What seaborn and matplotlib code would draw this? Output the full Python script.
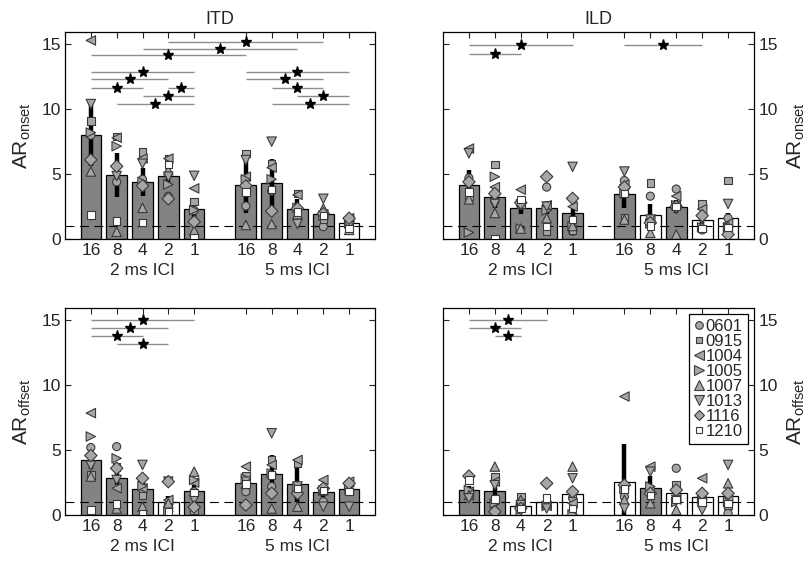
import numpy as np
import pandas as pd
import matplotlib
matplotlib.use('Agg')
import matplotlib.pyplot as plt
from matplotlib.lines import Line2D
import matplotlib.transforms as mtransforms
import seaborn as sns

# ---------------- data ----------------
subjects = ['0601', '0915', '1004', '1005', '1007', '1013', '1116', '1210']
subject_markers = ['o', 's', '<', '>', '^', 'v', 'D', 's']
rates = ['16', '8', '4', '2', '1', '16', '8', '4', '2', '1']
ici_groups = ['2 ms ICI', '5 ms ICI']

# ITD onset
itd_onset_mean = [8.0, 4.95, 4.4, 4.85, 2.28, 4.18, 4.28, 2.3, 1.92, 1.2]
itd_onset_se = [2.4, 1.7, 1.1, 0.6, 0.9, 2.2, 1.9, 0.8, 0.5, 0.3]
itd_onset_sig = [1, 1, 1, 1, 1, 1, 1, 1, 1, 0]
itd_onset_pts = [
    [8.0, 4.4, 4.6, 3.3, 2.2, 2.54, 3.7, 1.6, 0.95, 1.1],
    [9.1, 7.9, 6.7, 6.2, 2.9, 6.6, 5.8, 3.5, 1.5, 1.3],
    [15.3, 7.8, 6.2, 6.2, 3.9, 4.8, 5.5, 3.4, 1.9, 1.6],
    [8.2, 7.15, 4.4, 4.2, 2.23, 4.6, 4.6, 2.4, 1.8, 1.2],
    [5.2, 0.56, 2.4, 5.3, 0.64, 1.08, 1.15, 1.9, 2.35, 0.7],
    [10.4, 4.85, 5.8, 4.8, 4.87, 6.08, 7.5, 1.15, 3.1, 1.0],
    [6.1, 5.6, 4.1, 3.1, 1.33, 4.1, 2.15, 2.35, 1.95, 1.6],
    [1.85, 1.4, 1.28, 5.75, 0.13, 3.6, 3.8, 2.1, 1.8, 0.8],
]
itd_onset_pairs = [(3, 8, 15.15), (2, 7, 14.67), (0, 5, 14.2), (0, 4, 12.9), (0, 3, 12.3),
                   (0, 2, 11.67), (3, 4, 11.67), (2, 4, 11.05), (1, 4, 10.43),
                   (5, 9, 12.9), (5, 8, 12.3), (6, 8, 11.67), (7, 9, 11.05), (6, 9, 10.43)]

# ILD onset
ild_onset_mean = [4.13, 3.2, 2.4, 2.4, 2.0, 3.5, 1.82, 2.5, 1.46, 1.64]
ild_onset_se = [1.2, 0.8, 0.5, 0.5, 0.4, 1.1, 0.9, 0.5, 0.3, 0.4]
ild_onset_sig = [1, 1, 1, 1, 1, 1, 0, 1, 0, 0]
ild_onset_pts = [
    [4.7, 2.9, 2.6, 4.0, 0.6, 4.5, 3.3, 3.85, 0.7, 1.6],
    [3.3, 5.74, 2.7, 0.6, 0.7, 1.6, 4.3, 2.6, 2.7, 4.5],
    [6.97, 4.0, 3.8, 2.6, 2.5, 4.2, 1.5, 3.3, 2.3, 1.2],
    [0.5, 4.8, 0.8, 2.2, 1.0, 3.5, 1.2, 2.6, 0.9, 0.9],
    [3.05, 2.0, 0.8, 1.6, 1.0, 1.5, 0.47, 0.35, 1.0, 1.0],
    [6.6, 2.7, 2.65, 2.5, 5.56, 5.2, 1.5, 2.3, 1.5, 2.7],
    [4.4, 3.5, 2.8, 4.8, 3.13, 4.0, 1.25, 2.5, 1.8, 0.35],
    [3.64, 0.05, 3.05, 0.95, 1.5, 3.5, 1.0, 2.5, 0.8, 0.9],
]
ild_onset_pairs = [(0, 4, 14.92), (0, 2, 14.28), (5, 8, 14.92)]

# ITD offset
itd_offset_mean = [4.24, 2.88, 2.0, 1.03, 1.88, 2.44, 3.14, 2.37, 1.75, 2.0]
itd_offset_se = [0.7, 0.6, 0.6, 0.4, 0.4, 0.9, 1.5, 1.4, 0.4, 0.3]
itd_offset_sig = [1, 1, 1, 0, 1, 1, 1, 1, 1, 1]
itd_offset_pts = [
    [5.2, 5.27, 2.0, 0.8, 1.8, 1.8, 2.19, 2.06, 1.03, 2.3],
    [3.1, 3.7, 1.5, 0.6, 0.4, 3.0, 4.24, 4.0, 1.9, 1.8],
    [7.85, 2.06, 2.06, 1.16, 2.5, 3.73, 3.86, 4.24, 2.7, 2.57],
    [6.05, 4.37, 2.24, 0.3, 2.7, 2.8, 3.2, 2.1, 1.9, 2.2],
    [2.96, 0.5, 0.64, 0.9, 3.34, 2.4, 0.5, 0.64, 1.9, 2.0],
    [3.8, 2.7, 3.86, 2.57, 1.16, 2.57, 6.3, 2.2, 0.64, 0.64],
    [4.58, 3.6, 2.83, 2.57, 0.6, 0.77, 1.67, 1.67, 2.06, 2.44],
    [0.4, 0.85, 0.13, 0.26, 1.72, 2.4, 3.1, 2.05, 1.9, 1.8],
]
itd_offset_pairs = [(0, 4, 15.0), (0, 3, 14.38), (0, 2, 13.76), (1, 3, 13.15)]

# ILD offset
ild_offset_mean = [1.93, 1.88, 0.72, 1.03, 1.6, 2.57, 2.1, 1.72, 1.36, 1.5]
ild_offset_se = [0.3, 0.5, 0.2, 0.2, 0.5, 2.9, 0.9, 0.8, 0.3, 0.4]
ild_offset_sig = [1, 1, 0, 0, 0, 0, 1, 0, 0, 0]
ild_offset_pts = [
    [1.6, 1.0, 0.6, 0.8, 1.3, 1.4, 2.0, 3.6, 1.03, 0.13],
    [1.6, 2.96, 1.41, 0.9, 1.7, 2.1, 1.5, 2.3, 1.2, 0.77],
    [1.8, 2.57, 0.9, 0.7, 0.9, 9.13, 3.73, 1.2, 2.83, 1.2],
    [1.93, 0.9, 0.4, 0.7, 0.05, 2.0, 2.2, 1.0, 1.2, 1.0],
    [1.54, 3.73, 1.16, 0.9, 3.73, 1.16, 0.9, 0.39, 1.54, 2.44],
    [1.29, 2.3, 0.77, 0.5, 2.83, 0.5, 3.34, 1.16, 0.39, 3.86],
    [3.0, 0.26, 0.5, 2.44, 1.8, 2.3, 1.67, 1.93, 1.67, 1.67],
    [2.7, 1.23, 0.51, 1.29, 0.51, 2.0, 1.5, 1.2, 1.0, 0.9],
]
ild_offset_pairs = [(0, 3, 15.0), (0, 2, 14.38), (1, 2, 13.76)]

# ---------------- style ----------------
sns.set_style('ticks')
plt.rcParams['font.family'] = ['Liberation Sans', 'DejaVu Sans']
plt.rcParams['mathtext.default'] = 'regular'

BAR_GRAY = '#838383'
MK_GRAY = '#a6a6a6'
MK_EDGE = '#3a3a3a'
FS = 12.5

fig = plt.figure(figsize=(8.1, 5.62), dpi=100)
W, H = 810.0, 562.0
boxes = [(65, 32, 375, 239), (443, 32, 754, 239), (65, 308, 375, 515), (443, 308, 754, 515)]
axes = [fig.add_axes([l / W, 1 - b / H, (r - l) / W, (b - t) / H]) for (l, t, r, b) in boxes]

pos = np.r_[1:6, 7:12].astype(float)

panels = [
    (itd_onset_mean, itd_onset_se, itd_onset_sig, itd_onset_pts, itd_onset_pairs, 'ITD', 'AR$_{onset}$'),
    (ild_onset_mean, ild_onset_se, ild_onset_sig, ild_onset_pts, ild_onset_pairs, 'ILD', 'AR$_{onset}$'),
    (itd_offset_mean, itd_offset_se, itd_offset_sig, itd_offset_pts, itd_offset_pairs, None, 'AR$_{offset}$'),
    (ild_offset_mean, ild_offset_se, ild_offset_sig, ild_offset_pts, ild_offset_pairs, None, 'AR$_{offset}$'),
]

marker_map = dict(zip(subjects, subject_markers))
color_map = {s: (MK_GRAY if s != '1210' else 'white') for s in subjects}
size_map = {'0601': 34, '0915': 30, '1004': 46, '1005': 46, '1007': 46, '1013': 46,
            '1116': 40, '1210': 30}

for k, (ax, (mean, se, sig, pts, pairs, title, ylab)) in enumerate(zip(axes, panels)):
    mean = np.asarray(mean)
    se = np.asarray(se)
    colors = [BAR_GRAY if g else 'white' for g in sig]
    ax.bar(pos, mean, width=0.8, color=colors, edgecolor='black', linewidth=0.9, zorder=2)
    ax.vlines(pos, mean - se, mean + se, color='black', linewidth=3.2, zorder=3)
    ax.axhline(1.0, color='black', linewidth=0.8, linestyle=(0, (8, 5)), zorder=3.5)

    rows = []
    for s, vals in zip(subjects, pts):
        for i, v in enumerate(vals):
            rows.append({'x': pos[i], 'y': v, 'subject': s})
    df = pd.DataFrame(rows)
    sns.scatterplot(data=df, x='x', y='y', hue='subject', style='subject', size='subject',
                    sizes=size_map, size_order=subjects,
                    markers=marker_map, palette=color_map, hue_order=subjects,
                    style_order=subjects, edgecolor=MK_EDGE, linewidth=0.8,
                    legend=False, ax=ax, zorder=4)

    for (i, j, lev) in pairs:
        ax.hlines(lev, pos[i], pos[j], color='#8c8c8c', linewidth=1.0, zorder=1)
        ax.plot([(pos[i] + pos[j]) / 2], [lev], marker='*', ms=8, color='black',
                linestyle='', zorder=5)

    ax.set_xlim(0, 12)
    ax.set_ylim(0, 15.95)
    ax.set_xticks(pos)
    ax.set_xticklabels(rates, fontsize=FS)
    ax.set_yticks([0, 5, 10, 15])
    ax.set_xlabel('')
    ax.set_ylabel('')
    ax.tick_params(direction='in', top=True, right=True, length=4, width=0.8,
                   labelsize=FS, pad=3)
    for sp in ax.spines.values():
        sp.set_linewidth(0.9)
        sp.set_color('black')

    trans = mtransforms.blended_transform_factory(ax.transData, ax.transAxes)
    for g, label in enumerate(ici_groups):
        ax.text(pos[5 * g + 2], -0.15, label, transform=trans, ha='center', va='center',
                fontsize=FS)

    if title:
        ax.set_title(title, fontsize=FS + 0.5, pad=6)

    if k % 2 == 1:
        ax.tick_params(labelleft=False, labelright=True)
        ax.yaxis.set_label_position('right')
        ax.set_ylabel(ylab, fontsize=15, labelpad=6)
    else:
        ax.set_ylabel(ylab, fontsize=15, labelpad=6)

# legend in bottom-right panel
leg_sizes = [5.5, 5.0, 6.5, 6.5, 6.5, 6.5, 5.5, 5.0]
handles = [Line2D([], [], marker=m, linestyle='', markerfacecolor=color_map[s],
                  markeredgecolor=MK_EDGE, markersize=ms, markeredgewidth=0.8)
           for s, m, ms in zip(subjects, subject_markers, leg_sizes)]
leg = axes[3].legend(handles, subjects, loc='upper right', fontsize=12,
                     handlelength=0.6, handletextpad=0.1, labelspacing=0.0,
                     borderpad=0.3, borderaxespad=0.36, frameon=True, fancybox=False,
                     edgecolor='black', framealpha=1)
leg.get_frame().set_linewidth(0.9)
leg.set_zorder(10)

fig.savefig('out.png', dpi=100)
